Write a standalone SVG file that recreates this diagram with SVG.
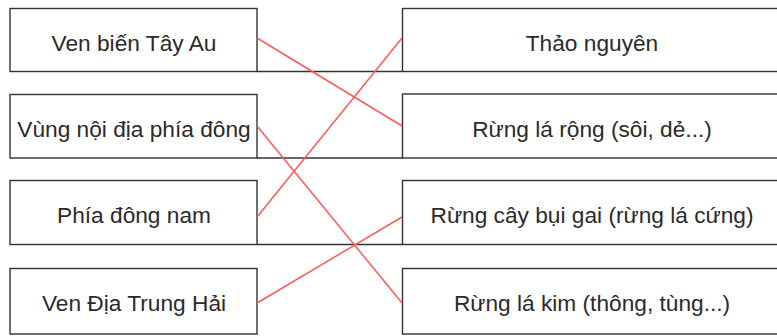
<svg xmlns="http://www.w3.org/2000/svg" width="777" height="336" viewBox="0 0 777 336">
<style>
.box{fill:#fff;stroke:#333;stroke-width:1.4}
.sep{stroke:#333;stroke-width:1.4}
.lbl{font-family:"Liberation Sans",Arial,sans-serif;font-size:22.7px;fill:#2a2a2a;text-anchor:middle}
.con{stroke:#ff5a5a;stroke-width:1.5;fill:none}
</style>
<rect width="777" height="336" fill="#fff"/>
<g id="separators">
<line class="sep" x1="257" y1="71.5" x2="402.5" y2="71.5"/>
<line class="sep" x1="257" y1="158" x2="402.5" y2="158"/>
<line class="sep" x1="257" y1="244.5" x2="402.5" y2="244.5"/>
</g>
<g id="left1"><rect class="box" x="10" y="8.5" width="247" height="63"/><text class="lbl" x="134" y="50.5">Ven biến Tây Au</text></g>
<g id="left2"><rect class="box" x="10" y="94.5" width="247" height="63.5"/><text class="lbl" x="134" y="137">Vùng nội địa phía đông</text></g>
<g id="left3"><rect class="box" x="10" y="180.5" width="247" height="64"/><text class="lbl" x="134" y="222.5">Phía đông nam</text></g>
<g id="left4"><rect class="box" x="10" y="268.5" width="247" height="65.5"/><text class="lbl" x="134" y="310.5">Ven Địa Trung Hải</text></g>
<g id="right1"><rect class="box" x="402.5" y="8.5" width="390" height="63"/><text class="lbl" x="592" y="50.5">Thảo nguyên</text></g>
<g id="right2"><rect class="box" x="402.5" y="94" width="390" height="64"/><text class="lbl" x="592" y="137">Rừng lá rộng (sôi, dẻ...)</text></g>
<g id="right3"><rect class="box" x="402.5" y="180.5" width="390" height="64"/><text class="lbl" x="592" y="222.5">Rừng cây bụi gai (rừng lá cứng)</text></g>
<g id="right4"><rect class="box" x="402.5" y="268.5" width="390" height="65.5"/><text class="lbl" x="592" y="311">Rừng lá kim (thông, tùng...)</text></g>
<g id="connectors">
<line class="con" x1="257" y1="38" x2="402" y2="126"/>
<line class="con" x1="257" y1="126" x2="402" y2="303"/>
<line class="con" x1="257" y1="217" x2="402" y2="38"/>
<line class="con" x1="257" y1="303" x2="402" y2="217"/>
</g>
</svg>
